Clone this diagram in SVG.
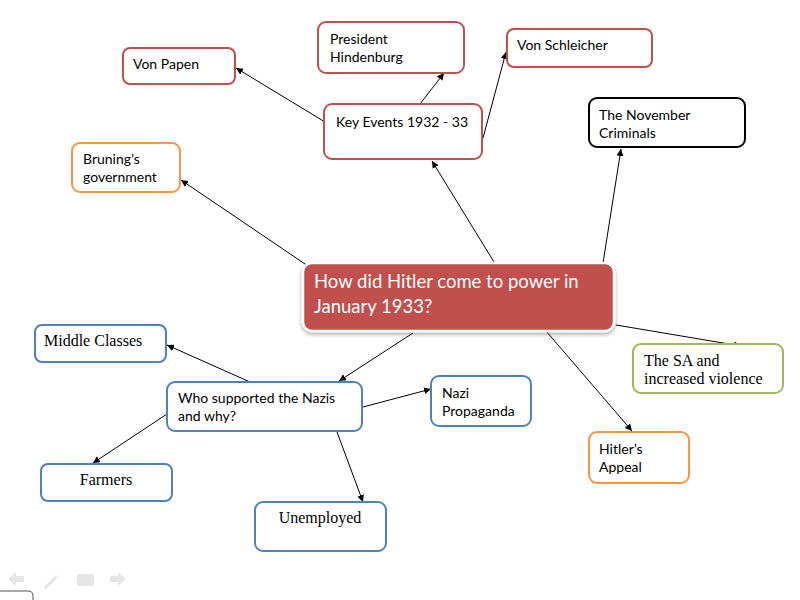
<svg xmlns="http://www.w3.org/2000/svg" width="800" height="600" viewBox="0 0 800 600">
<defs>
<marker id="ah" viewBox="0 0 10 10" refX="10" refY="5" markerWidth="7" markerHeight="7" orient="auto" markerUnits="userSpaceOnUse">
<path d="M0,0 L10,5 L0,10 z" fill="#000"/>
</marker>
<filter id="sh" x="-10%" y="-20%" width="120%" height="150%">
<feDropShadow dx="0" dy="2" stdDeviation="2" flood-color="#000" flood-opacity="0.35"/>
</filter>
<style>
.b{fill:#fff;stroke-width:2}
.red{stroke:#C0504D}
.org{stroke:#F79646}
.blu{stroke:#4F81BD}
.grn{stroke:#9BBB59}
.blk{stroke:#000}
.t{font-family:Lato,"Open Sans","Liberation Sans",sans-serif;font-size:14px;fill:#000}
.s{font-family:"Liberation Serif","DejaVu Serif",serif;font-size:16px;fill:#000}
.c line{stroke:#000;stroke-width:1;marker-end:url(#ah)}
</style>
</defs>
<rect width="800" height="600" fill="#fff"/>

<g class="c" id="connectors">
<line x1="308" y1="266" x2="181" y2="180"/>
<line x1="494" y1="262" x2="432" y2="161"/>
<line x1="603" y1="263" x2="621" y2="149"/>
<line x1="616" y1="325" x2="741" y2="346"/>
<line x1="546" y1="331" x2="632" y2="431"/>
<line x1="413" y1="333" x2="339" y2="381"/>
<line x1="325" y1="122" x2="236" y2="68"/>
<line x1="420" y1="104" x2="444" y2="73"/>
<line x1="483" y1="138" x2="506" y2="52"/>
<line x1="250" y1="382" x2="167" y2="345"/>
<line x1="167" y1="414" x2="93" y2="463"/>
<line x1="363" y1="407" x2="431" y2="389"/>
<line x1="337" y1="432" x2="363" y2="502"/>
</g>

<g id="central">
<rect x="303" y="263" width="311" height="68" rx="9" fill="#C0504D" stroke="#fff" stroke-width="2.5" filter="url(#sh)"/>
<text x="314" y="288" font-family="Lato,'Open Sans','Liberation Sans',sans-serif" font-size="18.5" fill="#fff">How did Hitler come to power in</text>
<text x="314" y="313" font-family="Lato,'Open Sans','Liberation Sans',sans-serif" font-size="18.5" fill="#fff">January 1933?</text>
</g>

<g id="key-events">
<rect class="b red" x="324" y="104" width="158" height="55" rx="8"/>
<text class="t" x="336" y="127">Key Events 1932 - 33</text>
</g>

<g id="hindenburg">
<rect class="b red" x="318" y="22" width="146" height="51" rx="8"/>
<text class="t" x="330" y="44">President</text>
<text class="t" x="330" y="62">Hindenburg</text>
</g>

<g id="schleicher">
<rect class="b red" x="507" y="29" width="145" height="38" rx="7"/>
<text class="t" x="517" y="50">Von Schleicher</text>
</g>

<g id="papen">
<rect class="b red" x="123" y="48" width="112" height="36" rx="7"/>
<text class="t" x="133" y="69">Von Papen</text>
</g>

<g id="bruning">
<rect class="b org" x="72" y="143" width="108" height="49" rx="8"/>
<text class="t" x="83" y="164">Bruning’s</text>
<text class="t" x="83" y="182">government</text>
</g>

<g id="november">
<rect class="b blk" x="589" y="98" width="156" height="49" rx="8"/>
<text class="t" x="599" y="120">The November</text>
<text class="t" x="599" y="138">Criminals</text>
</g>

<g id="sa">
<rect class="b grn" x="633" y="344" width="150" height="49" rx="8"/>
<text class="s" x="644" y="366">The SA and</text>
<text class="s" x="644" y="384">increased violence</text>
</g>

<g id="appeal">
<rect class="b org" x="589" y="432" width="100" height="51" rx="8"/>
<text class="t" x="599" y="454">Hitler’s</text>
<text class="t" x="599" y="472">Appeal</text>
</g>

<g id="propaganda">
<rect class="b blu" x="431" y="376" width="100" height="50" rx="8"/>
<text class="t" x="442" y="398">Nazi</text>
<text class="t" x="442" y="416">Propaganda</text>
</g>

<g id="who">
<rect class="b blu" x="167" y="382" width="195" height="49" rx="8"/>
<text class="t" x="178" y="403">Who supported the Nazis</text>
<text class="t" x="178" y="421">and why?</text>
</g>

<g id="middle">
<rect class="b blu" x="35" y="325" width="131" height="37" rx="7"/>
<text class="s" x="44" y="346">Middle Classes</text>
</g>

<g id="farmers">
<rect class="b blu" x="41" y="464" width="131" height="37" rx="7"/>
<text class="s" x="106" y="485" text-anchor="middle">Farmers</text>
</g>

<g id="unemployed">
<rect class="b blu" x="255" y="502" width="131" height="49" rx="8"/>
<text class="s" x="320" y="523" text-anchor="middle">Unemployed</text>
</g>

<g id="controls" fill="#e6e6e6" stroke="none">
<path d="M8,579 L16,572 L16,576 L24,576 L24,582 L16,582 L16,586 z"/>
<path d="M44,587 L56,575 L58,577 L46,589 z"/>
<rect x="77" y="574" width="17" height="12" rx="2"/>
<path d="M126,579 L118,572 L118,576 L110,576 L110,582 L118,582 L118,586 z"/>
<path d="M-2,591 L28,591 Q33,591 33,596 L33,602" fill="none" stroke="#555" stroke-width="1"/>
</g>
</svg>
